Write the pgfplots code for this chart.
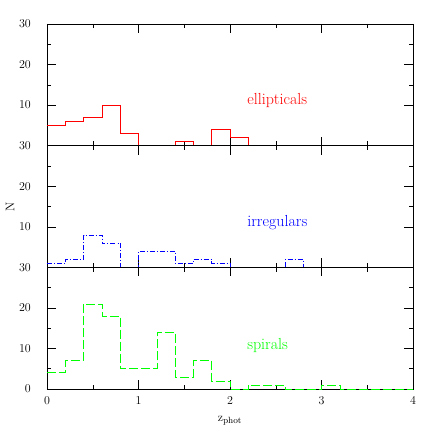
\documentclass[border=0pt]{standalone}
\usepackage{pgfplots}
\pgfplotsset{compat=1.18}

% one bin = 0.2 in z; last value repeated so the step reaches x=4
\pgfplotsset{
  panel/.style={
    scale only axis, width=366pt, height=121.67pt,
    xmin=0, xmax=4, ymin=0, ymax=30,
    xtick={0,1,2,3,4}, minor x tick num=1,
    minor y tick num=1,
    major tick length=9pt, minor tick length=4.5pt,
    tick style={black, line width=0.5pt},
    axis line style={line width=0.6pt},
    tick label style={font=\fontsize{12.5}{14}\selectfont},
    y tick label style={anchor=east, inner sep=0pt, xshift=-16pt},
    x tick label style={anchor=north, inner sep=0pt, yshift=-8pt},
    every axis y label/.style={at={(axis description cs:-0.101,0.5)},
      anchor=center, rotate=90, font=\fontsize{12.5}{14}\selectfont},
    every axis x label/.style={at={(axis description cs:0.5,-0.26)},
      anchor=center, font=\fontsize{13}{15}\selectfont},
    anchor=south west,
  },
}
\tikzset{lbl/.style={anchor=west, font=\fontsize{16}{18}\selectfont}}

\begin{document}
\begin{tikzpicture}
\useasboundingbox (-47pt,-47pt) rectangle (389pt,389pt);

% ellipticals
\begin{axis}[panel, at={(0pt,243.33pt)}, xticklabels={}, ytick={10,20,30}]
  \addplot[red, const plot, line width=0.6pt] coordinates {
    (0,5) (0.2,6) (0.4,7) (0.6,10) (0.8,3) (1.0,0) (1.2,0) (1.4,1) (1.6,0)
    (1.8,4) (2.0,2) (2.2,0) (4.0,0)};
  \node[red, lbl] at (axis cs:2.15,11.1) {ellipticals};
\end{axis}

% irregulars
\begin{axis}[panel, at={(0pt,121.67pt)}, xticklabels={}, ytick={10,20,30}, ylabel={N}]
  \addplot[blue, const plot, line width=0.6pt,
    dash pattern=on 5pt off 2pt on 1pt off 2pt] coordinates {
    (0,1) (0.2,2) (0.4,8) (0.6,6) (0.8,0) (1.0,4) (1.2,4) (1.4,1) (1.6,2)
    (1.8,1) (2.0,0) (2.6,2) (2.8,0) (4.0,0)};
  \node[blue, lbl] at (axis cs:2.15,11.0) {irregulars};
\end{axis}

% spirals
\begin{axis}[panel, at={(0pt,0pt)}, ytick={0,10,20,30},
    xlabel={$\mathrm{z}_{\mathrm{phot}}$}]
  \addplot[green, const plot, line width=0.6pt,
    dash pattern=on 9pt off 3pt] coordinates {
    (0,4) (0.2,7) (0.4,21) (0.6,18) (0.8,5) (1.0,5) (1.2,14) (1.4,3) (1.6,7)
    (1.8,2) (2.0,0) (2.2,1) (2.4,1) (2.6,0) (3.0,1) (3.2,0) (4.0,0)};
  \node[green, lbl] at (axis cs:2.15,10.8) {spirals};
\end{axis}
\end{tikzpicture}
\end{document}
